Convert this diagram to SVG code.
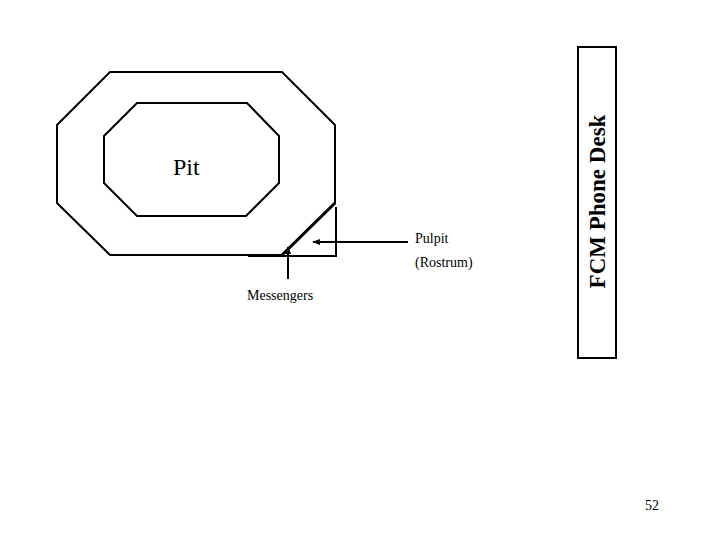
<svg xmlns="http://www.w3.org/2000/svg" width="720" height="540" viewBox="0 0 720 540">
<style>
.ln{fill:none;stroke:#000;stroke-width:2}
.t{font-family:"Liberation Serif","Times New Roman",serif;fill:#000}
</style>
<defs>
<marker id="ah" viewBox="0 0 10 10" refX="9" refY="5" markerWidth="4" markerHeight="4" orient="auto" markerUnits="strokeWidth">
<path d="M0,1 L10,5 L0,9 z" fill="#000"/>
</marker>
</defs>
<rect width="720" height="540" fill="#fff"/>
<g id="outer">
<polygon class="ln" points="110,72 282,72 335,125 335,203 282,255 110,255 57,203 57,125"/>
<line x1="335" y1="203" x2="282" y2="255" stroke="#000" stroke-width="3"/>
</g>
<g id="pit">
<polygon class="ln" points="137,103 247,103 279,136 279,183 246,216 137,216 104,183 104,136"/>
<text class="t" x="173" y="175" font-size="24">Pit</text>
</g>
<g id="pulpit">
<polyline class="ln" points="336,207 336,256 248,256"/>
<text class="t" x="415" y="243" font-size="14">Pulpit</text>
<text class="t" x="415" y="267" font-size="14">(Rostrum)</text>
</g>
<g id="messengers">
<text class="t" x="247" y="300" font-size="14">Messengers</text>
</g>
<g id="phone-desk">
<rect class="ln" x="578" y="47" width="38" height="311"/>
<text class="t" font-size="23" font-weight="bold" text-anchor="middle" transform="translate(605,201.5) rotate(-90)">FCM Phone Desk</text>
</g>
<g id="connectors">
<line class="ln" x1="408" y1="242" x2="313" y2="242" marker-end="url(#ah)"/>
<line class="ln" x1="288" y1="279" x2="288" y2="247" marker-end="url(#ah)"/>
</g>
<text class="t" x="645" y="510" font-size="14">52</text>
</svg>
